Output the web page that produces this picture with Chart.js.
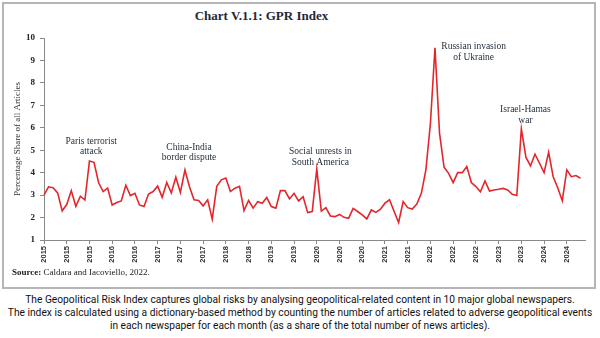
<!DOCTYPE html>
<html>
<head>
<meta charset="utf-8">
<script src="https://cdn.jsdelivr.net/npm/chart.js@4.4.1/dist/chart.umd.min.js"></script>
<style>
  html, body { margin: 0; padding: 0; background: #fff; }
  body { width: 600px; height: 338px; position: relative; overflow: hidden; }
  #frame { position: absolute; left: 2px; top: 2px; width: 590px; height: 283px; border: 2px solid #b5b5b5; }
  #title { position: absolute; left: 0; width: 523px; top: 8px; text-align: center;
           font: bold 13px "Liberation Serif", serif; color: #1f2a36; }
  #source { position: absolute; left: 12px; top: 267px; font: 9px "Liberation Serif", serif; color: #222; }
  #caption { position: absolute; left: 0; width: 600px; top: 293px;
             font: 11px "Roboto", sans-serif; line-height: 13.2px; color: #111; }
  #caption div { white-space: nowrap; width: max-content; position: relative; left: 50%;
                 transform-origin: 50% 50%; transform: translateX(-50%); }
  canvas { position: absolute; left: 0; top: 0; }
</style>
</head>
<body>
<div id="frame"></div>
<div id="title">Chart V.1.1: GPR Index</div>
<canvas id="gpr" width="600" height="290"></canvas>
<div id="source"><b>Source:</b> Caldara and Iacoviello, 2022.</div>
<div id="caption">
  <div>The Geopolitical Risk Index captures global risks by analysing geopolitical-related content in 10 major global newspapers.</div>
  <div>The index is calculated using a dictionary-based method by counting the number of articles related to adverse geopolitical events</div>
  <div>in each newspaper for each month (as a share of the total number of news articles).</div>
</div>
<script>
// monthly share of articles (%), Jan 2015 onwards
const gprValues = [
    3.0, 3.37, 3.33, 3.1, 2.3, 2.58, 3.2, 2.5, 2.95, 2.78,
    4.52, 4.46, 3.56, 3.16, 3.31, 2.56, 2.67, 2.74, 3.44, 2.98,
    3.08, 2.56, 2.49, 3.05, 3.16, 3.4, 2.9, 3.56, 3.1, 3.8,
    3.12, 4.12, 3.37, 2.79, 2.76, 2.52, 2.79, 1.93, 3.39, 3.68,
    3.76, 3.16, 3.31, 3.39, 2.31, 2.76, 2.42, 2.71, 2.64, 2.89,
    2.49, 2.42, 3.2, 3.2, 2.83, 3.08, 2.74, 2.93, 2.22, 2.27,
    4.16, 2.29, 2.44, 2.07, 2.04, 2.14, 2.01, 1.97, 2.41, 2.27,
    2.12, 1.94, 2.34, 2.23, 2.37, 2.64, 2.79, 2.28, 1.78, 2.71,
    2.44, 2.38, 2.6, 3.08, 4.12, 6.2, 9.56, 5.76, 4.24, 3.97,
    3.56, 4.0, 4.0, 4.27, 3.56, 3.38, 3.15, 3.63, 3.18, 3.23,
    3.26, 3.3, 3.23, 3.04, 2.98, 5.95, 4.69, 4.3, 4.82, 4.42,
    4.0, 4.91, 3.82, 3.33, 2.75, 4.12, 3.82, 3.87, 3.75
];

const years = ['2015', '2016', '2017', '2018', '2019', '2020', '2021', '2022', '2023', '2024'];
const monthNames = ['Jan', 'Feb', 'Mar', 'Apr', 'May', 'Jun', 'Jul', 'Aug', 'Sep', 'Oct', 'Nov', 'Dec'];

// one label shown every 5 months
const tickYears = [
    '2015', '2015', '2015', '2016', '2016', '2017', '2017', '2017',
    '2018', '2018', '2019', '2019', '2020', '2020', '2020', '2021',
    '2021', '2022', '2022', '2022', '2023', '2023', '2024', '2024'
];

const eventNames = [
    ['Paris terrorist', 'attack'],
    ['China-India', 'border dispute'],
    ['Social unrests in', 'South America'],
    ['Russian invasion', 'of Ukraine'],
    ['Israel-Hamas', 'war']
];
const eventMonth = [10.4, 31.9, 60.8, 94.5, 105.9];
const eventLevel = [5.41, 5.13, 4.93, 9.62, 6.8];

const labels = [];
years.forEach(y => monthNames.forEach(m => labels.push(m + ' ' + y)));

// squeeze the caption so the longest line fits like the original
const capLines = document.querySelectorAll('#caption div');
const squeeze = Math.min(1, 584 / capLines[1].offsetWidth);
capLines.forEach(d => { d.style.transform = 'translateX(-50%) scaleX(' + squeeze + ')'; });

const eventText = {
    id: 'eventText',
    afterDatasetsDraw(chart) {
        const ctx = chart.ctx;
        const xs = chart.scales.x, ys = chart.scales.y;
        ctx.save();
        ctx.font = '9.5px "Liberation Serif", serif';
        ctx.fillStyle = '#1f2a36';
        ctx.textAlign = 'center';
        ctx.textBaseline = 'middle';
        eventNames.forEach((lines, i) => {
            const x = xs.getPixelForValue(eventMonth[i]);
            const y = ys.getPixelForValue(eventLevel[i]);
            lines.forEach((t, j) => ctx.fillText(t, x, y + j * 10.5));
        });
        ctx.restore();
    }
};

new Chart(document.getElementById('gpr'), {
    type: 'line',
    data: {
        labels: labels,
        datasets: [{
            data: gprValues,
            borderColor: '#e2262b',
            borderWidth: 1.6,
            pointRadius: 0,
            tension: 0,
            fill: false
        }]
    },
    plugins: [eventText],
    options: {
        responsive: false,
        animation: false,
        devicePixelRatio: 1,
        layout: { padding: { top: 38, right: 15, left: 0, bottom: 0 } },
        plugins: {
            legend: { display: false },
            tooltip: { enabled: false }
        },
        scales: {
            x: {
                afterFit: (s) => { s.height = 50; },
                border: { color: '#8a8a8a', width: 1 },
                grid: { drawOnChartArea: false, tickLength: 4, color: '#8a8a8a' },
                ticks: {
                    autoSkip: false,
                    minRotation: 90,
                    maxRotation: 90,
                    padding: 2,
                    color: '#333',
                    font: { family: '"Liberation Sans", Arial, sans-serif', size: 7.5, weight: 'bold' },
                    callback: (v, i) => (i % 5 === 0 ? tickYears[i / 5] : null)
                }
            },
            y: {
                min: 1,
                max: 10,
                afterFit: (s) => { s.width = 44; },
                border: { color: '#8a8a8a', width: 1 },
                grid: { drawOnChartArea: false, tickLength: 4, color: '#8a8a8a' },
                ticks: {
                    stepSize: 1,
                    padding: 5,
                    color: '#222',
                    font: { family: '"Liberation Serif", serif', size: 9, weight: 'bold' }
                },
                title: {
                    display: true,
                    text: 'Percentage Share of all Articles',
                    color: '#333',
                    font: { family: '"Liberation Serif", serif', size: 9 },
                    padding: { top: 12, bottom: 0 }
                }
            }
        }
    }
});
</script>
</body>
</html>
